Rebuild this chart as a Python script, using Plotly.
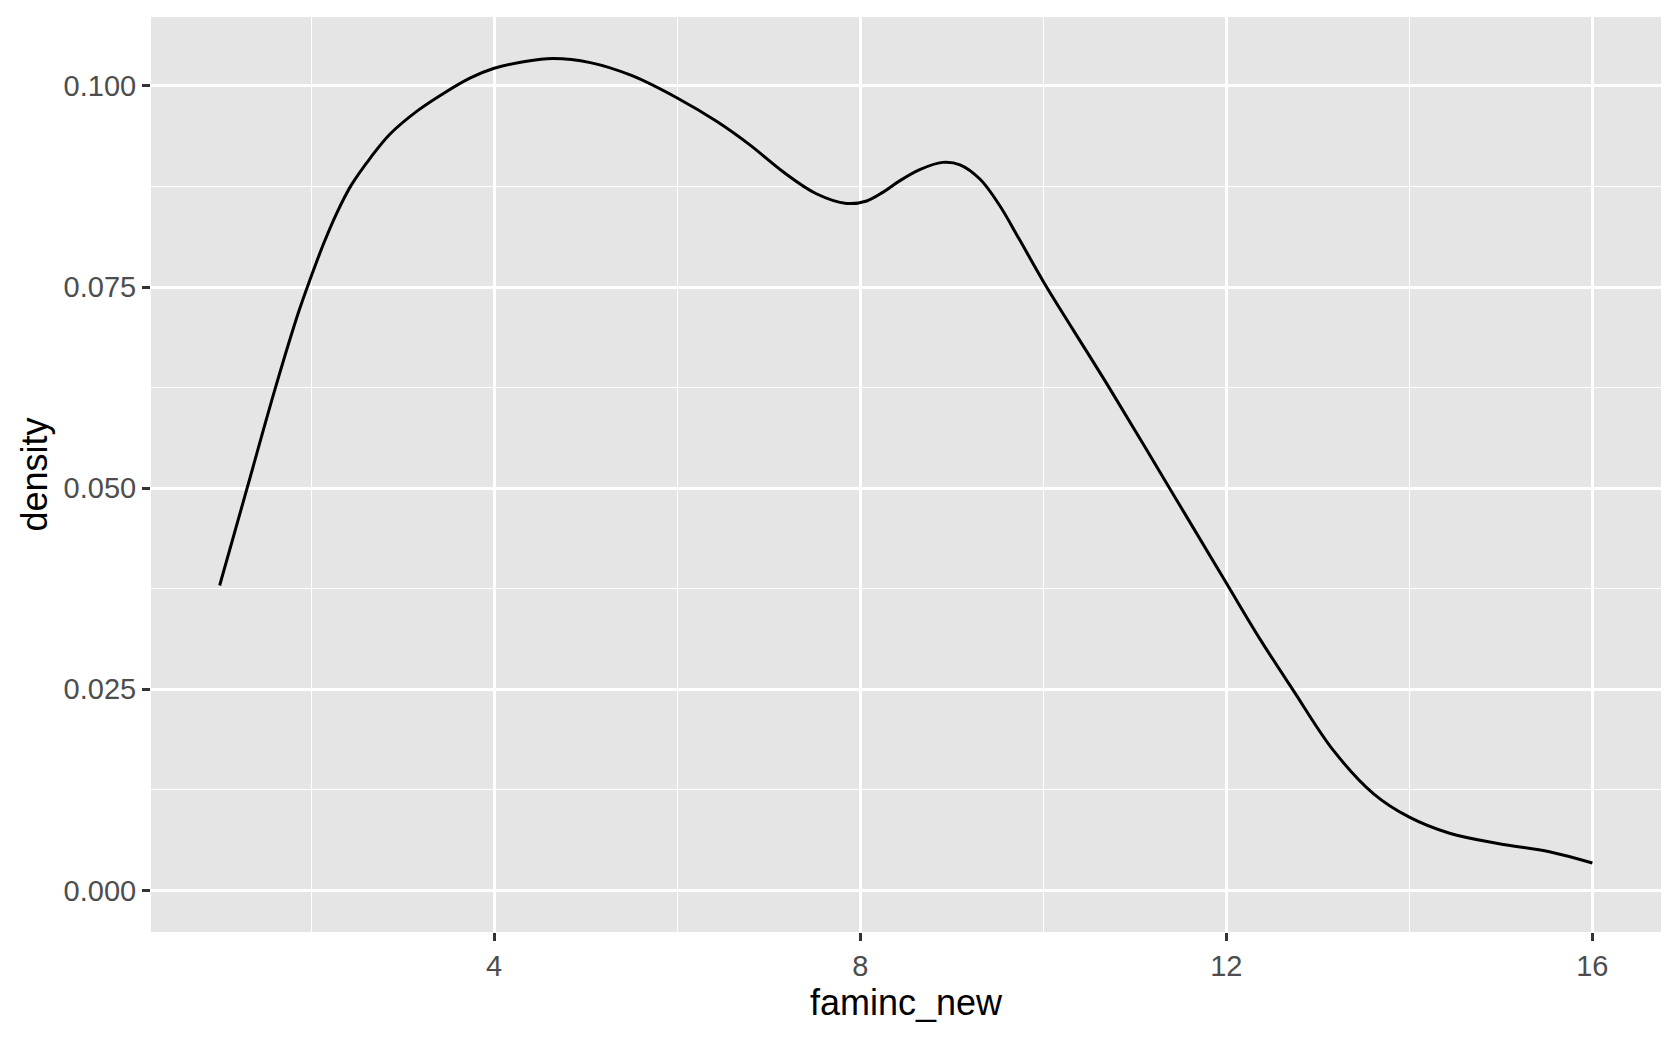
import plotly.graph_objects as go

# Density curve
faminc_new = [1.0, 1.3, 1.61, 1.86, 1.99, 2.14, 2.28, 2.44, 2.65, 2.86, 3.16, 3.45,
              3.74, 4.0, 4.32, 4.64, 5.05, 5.5, 6.0, 6.43, 6.79, 7.16, 7.52, 7.85,
              8.07, 8.25, 8.43, 8.65, 8.9, 9.09, 9.31, 9.52, 9.74, 10.0, 10.32, 10.72,
              11.38, 12.0, 12.37, 12.73, 13.17, 13.61, 14.0, 14.44, 14.98, 15.53, 16.0]
density = [0.0379, 0.0500, 0.0625, 0.0718, 0.0760, 0.0805, 0.0842, 0.0877, 0.0911,
           0.0940, 0.0969, 0.0991, 0.1010, 0.1022, 0.1030, 0.1034, 0.1029, 0.1013,
           0.0985, 0.0956, 0.0927, 0.0893, 0.0866, 0.0854, 0.0857, 0.0868, 0.0882,
           0.0896, 0.0905, 0.0902, 0.0884, 0.0852, 0.0809, 0.0757, 0.0698, 0.0625,
           0.0500, 0.0382, 0.0312, 0.0249, 0.0174, 0.0120, 0.0091, 0.0071, 0.0058,
           0.0048, 0.0034]

x_ticks = [4, 8, 12, 16]
x_minor = [2, 6, 10, 14]
y_ticks = [0.000, 0.025, 0.050, 0.075, 0.100]
y_labels = ["0.000", "0.025", "0.050", "0.075", "0.100"]
y_minor = [0.0125, 0.0375, 0.0625, 0.0875]

fig = go.Figure()
fig.add_trace(go.Scatter(
    x=faminc_new, y=density, mode="lines",
    line=dict(color="black", width=3, shape="spline", smoothing=1.0),
    showlegend=False, hoverinfo="skip",
))

ymax = max(density)
xr = [min(faminc_new), max(faminc_new)]
xpad = (xr[1] - xr[0]) * 0.05
ypad = ymax * 0.05

tickfont = dict(family="Liberation Sans, Arial, sans-serif", size=29, color="#4D4D4D")
titlefont = dict(family="Liberation Sans, Arial, sans-serif", size=36, color="black")

fig.update_layout(
    width=1680, height=1038,
    margin=dict(l=151, r=19, t=17, b=106, autoexpand=False),
    paper_bgcolor="white",
    plot_bgcolor="#E5E5E5",
    xaxis=dict(
        range=[xr[0] - xpad, xr[1] + xpad],
        tickmode="array", tickvals=x_ticks, ticktext=[str(v) for v in x_ticks],
        showgrid=True, gridcolor="white", gridwidth=2.8,
        minor=dict(tickmode="array", tickvals=x_minor, showgrid=True,
                   gridcolor="white", gridwidth=1.4, ticks=""),
        ticks="outside", ticklen=8, tickwidth=3, tickcolor="#333333",
        tickfont=tickfont, zeroline=False, showline=False,
        title=dict(text="faminc_new", font=titlefont, standoff=8),
    ),
    yaxis=dict(
        range=[-ypad, ymax + ypad],
        tickmode="array", tickvals=y_ticks, ticktext=y_labels,
        showgrid=True, gridcolor="white", gridwidth=2.8,
        minor=dict(tickmode="array", tickvals=y_minor, showgrid=True,
                   gridcolor="white", gridwidth=1.4, ticks=""),
        ticks="outside", ticklen=8, tickwidth=3, tickcolor="#333333",
        tickfont=tickfont, zeroline=False, showline=False,
        title=dict(text="density", font=titlefont, standoff=5),
    ),
)

fig.write_html("out.html",
               config={"displayModeBar": False},
               post_script="document.body.style.margin='0';document.body.style.overflow='hidden';")
